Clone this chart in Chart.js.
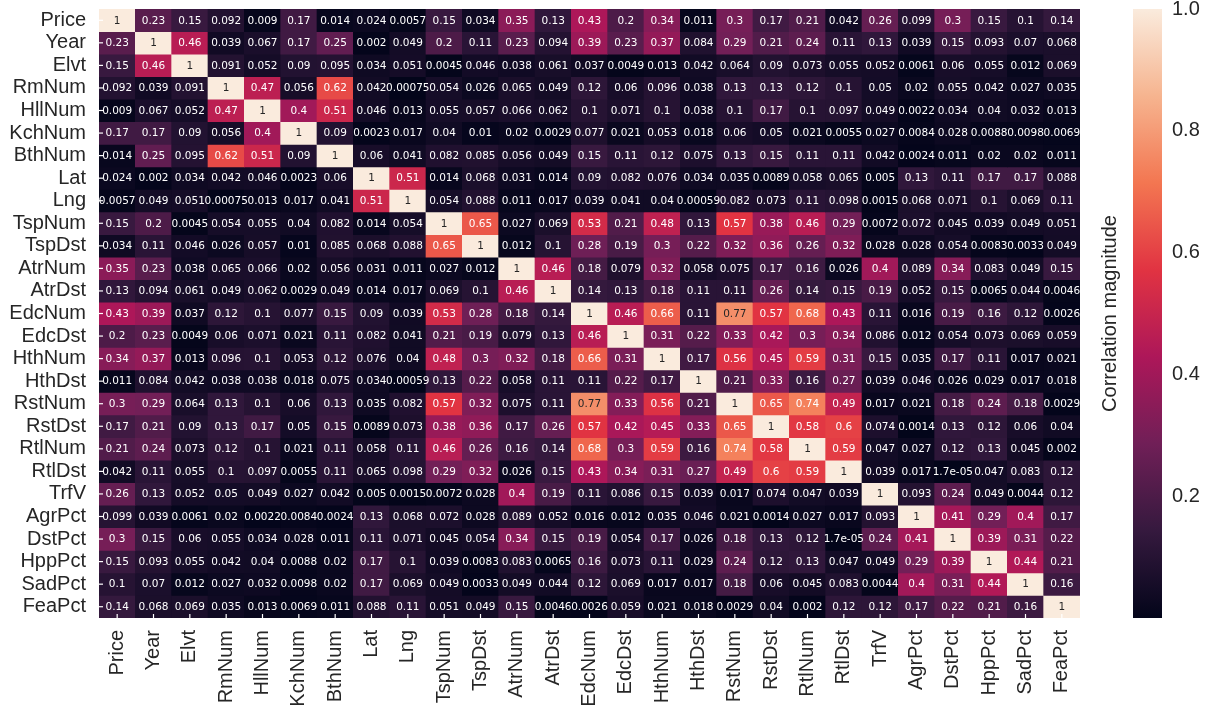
<!DOCTYPE html>
<html>
<head>
<meta charset="utf-8">
<script src="https://cdn.jsdelivr.net/npm/chart.js@4.4.1/dist/chart.umd.min.js"></script>
<style>
  html, body { margin: 0; padding: 0; background: #ffffff; }
  #wrap { width: 1207px; height: 709px; position: relative; }
</style>
</head>
<body>
<div id="wrap"><canvas id="heat" width="1207" height="709"></canvas></div>
<script>
// Feature names (rows and columns share the same order)
const features = ['Price','Year','Elvt','RmNum','HllNum','KchNum','BthNum','Lat','Lng',
  'TspNum','TspDst','AtrNum','AtrDst','EdcNum','EdcDst','HthNum','HthDst','RstNum',
  'RstDst','RtlNum','RtlDst','TrfV','AgrPct','DstPct','HppPct','SadPct','FeaPct'];

// Absolute correlation, one array per row
const rPrice  = [1,0.23,0.15,0.092,0.009,0.17,0.014,0.024,0.0057,0.15,0.034,0.35,0.13,0.43,0.2,0.34,0.011,0.3,0.17,0.21,0.042,0.26,0.099,0.3,0.15,0.1,0.14];
const rYear   = [0.23,1,0.46,0.039,0.067,0.17,0.25,0.002,0.049,0.2,0.11,0.23,0.094,0.39,0.23,0.37,0.084,0.29,0.21,0.24,0.11,0.13,0.039,0.15,0.093,0.07,0.068];
const rElvt   = [0.15,0.46,1,0.091,0.052,0.09,0.095,0.034,0.051,0.0045,0.046,0.038,0.061,0.037,0.0049,0.013,0.042,0.064,0.09,0.073,0.055,0.052,0.0061,0.06,0.055,0.012,0.069];
const rRmNum  = [0.092,0.039,0.091,1,0.47,0.056,0.62,0.042,0.00075,0.054,0.026,0.065,0.049,0.12,0.06,0.096,0.038,0.13,0.13,0.12,0.1,0.05,0.02,0.055,0.042,0.027,0.035];
const rHllNum = [0.009,0.067,0.052,0.47,1,0.4,0.51,0.046,0.013,0.055,0.057,0.066,0.062,0.1,0.071,0.1,0.038,0.1,0.17,0.1,0.097,0.049,0.0022,0.034,0.04,0.032,0.013];
const rKchNum = [0.17,0.17,0.09,0.056,0.4,1,0.09,0.0023,0.017,0.04,0.01,0.02,0.0029,0.077,0.021,0.053,0.018,0.06,0.05,0.021,0.0055,0.027,0.0084,0.028,0.0088,0.0098,0.0069];
const rBthNum = [0.014,0.25,0.095,0.62,0.51,0.09,1,0.06,0.041,0.082,0.085,0.056,0.049,0.15,0.11,0.12,0.075,0.13,0.15,0.11,0.11,0.042,0.0024,0.011,0.02,0.02,0.011];
const rLat    = [0.024,0.002,0.034,0.042,0.046,0.0023,0.06,1,0.51,0.014,0.068,0.031,0.014,0.09,0.082,0.076,0.034,0.035,0.0089,0.058,0.065,0.005,0.13,0.11,0.17,0.17,0.088];
const rLng    = [0.0057,0.049,0.051,0.00075,0.013,0.017,0.041,0.51,1,0.054,0.088,0.011,0.017,0.039,0.041,0.04,0.00059,0.082,0.073,0.11,0.098,0.0015,0.068,0.071,0.1,0.069,0.11];
const rTspNum = [0.15,0.2,0.0045,0.054,0.055,0.04,0.082,0.014,0.054,1,0.65,0.027,0.069,0.53,0.21,0.48,0.13,0.57,0.38,0.46,0.29,0.0072,0.072,0.045,0.039,0.049,0.051];
const rTspDst = [0.034,0.11,0.046,0.026,0.057,0.01,0.085,0.068,0.088,0.65,1,0.012,0.1,0.28,0.19,0.3,0.22,0.32,0.36,0.26,0.32,0.028,0.028,0.054,0.0083,0.0033,0.049];
const rAtrNum = [0.35,0.23,0.038,0.065,0.066,0.02,0.056,0.031,0.011,0.027,0.012,1,0.46,0.18,0.079,0.32,0.058,0.075,0.17,0.16,0.026,0.4,0.089,0.34,0.083,0.049,0.15];
const rAtrDst = [0.13,0.094,0.061,0.049,0.062,0.0029,0.049,0.014,0.017,0.069,0.1,0.46,1,0.14,0.13,0.18,0.11,0.11,0.26,0.14,0.15,0.19,0.052,0.15,0.0065,0.044,0.0046];
const rEdcNum = [0.43,0.39,0.037,0.12,0.1,0.077,0.15,0.09,0.039,0.53,0.28,0.18,0.14,1,0.46,0.66,0.11,0.77,0.57,0.68,0.43,0.11,0.016,0.19,0.16,0.12,0.0026];
const rEdcDst = [0.2,0.23,0.0049,0.06,0.071,0.021,0.11,0.082,0.041,0.21,0.19,0.079,0.13,0.46,1,0.31,0.22,0.33,0.42,0.3,0.34,0.086,0.012,0.054,0.073,0.069,0.059];
const rHthNum = [0.34,0.37,0.013,0.096,0.1,0.053,0.12,0.076,0.04,0.48,0.3,0.32,0.18,0.66,0.31,1,0.17,0.56,0.45,0.59,0.31,0.15,0.035,0.17,0.11,0.017,0.021];
const rHthDst = [0.011,0.084,0.042,0.038,0.038,0.018,0.075,0.034,0.00059,0.13,0.22,0.058,0.11,0.11,0.22,0.17,1,0.21,0.33,0.16,0.27,0.039,0.046,0.026,0.029,0.017,0.018];
const rRstNum = [0.3,0.29,0.064,0.13,0.1,0.06,0.13,0.035,0.082,0.57,0.32,0.075,0.11,0.77,0.33,0.56,0.21,1,0.65,0.74,0.49,0.017,0.021,0.18,0.24,0.18,0.0029];
const rRstDst = [0.17,0.21,0.09,0.13,0.17,0.05,0.15,0.0089,0.073,0.38,0.36,0.17,0.26,0.57,0.42,0.45,0.33,0.65,1,0.58,0.6,0.074,0.0014,0.13,0.12,0.06,0.04];
const rRtlNum = [0.21,0.24,0.073,0.12,0.1,0.021,0.11,0.058,0.11,0.46,0.26,0.16,0.14,0.68,0.3,0.59,0.16,0.74,0.58,1,0.59,0.047,0.027,0.12,0.13,0.045,0.002];
const rRtlDst = [0.042,0.11,0.055,0.1,0.097,0.0055,0.11,0.065,0.098,0.29,0.32,0.026,0.15,0.43,0.34,0.31,0.27,0.49,0.6,0.59,1,0.039,0.017,1.7e-05,0.047,0.083,0.12];
const rTrfV   = [0.26,0.13,0.052,0.05,0.049,0.027,0.042,0.005,0.0015,0.0072,0.028,0.4,0.19,0.11,0.086,0.15,0.039,0.017,0.074,0.047,0.039,1,0.093,0.24,0.049,0.0044,0.12];
const rAgrPct = [0.099,0.039,0.0061,0.02,0.0022,0.0084,0.0024,0.13,0.068,0.072,0.028,0.089,0.052,0.016,0.012,0.035,0.046,0.021,0.0014,0.027,0.017,0.093,1,0.41,0.29,0.4,0.17];
const rDstPct = [0.3,0.15,0.06,0.055,0.034,0.028,0.011,0.11,0.071,0.045,0.054,0.34,0.15,0.19,0.054,0.17,0.026,0.18,0.13,0.12,1.7e-05,0.24,0.41,1,0.39,0.31,0.22];
const rHppPct = [0.15,0.093,0.055,0.042,0.04,0.0088,0.02,0.17,0.1,0.039,0.0083,0.083,0.0065,0.16,0.073,0.11,0.029,0.24,0.12,0.13,0.047,0.049,0.29,0.39,1,0.44,0.21];
const rSadPct = [0.1,0.07,0.012,0.027,0.032,0.0098,0.02,0.17,0.069,0.049,0.0033,0.049,0.044,0.12,0.069,0.017,0.017,0.18,0.06,0.045,0.083,0.0044,0.4,0.31,0.44,1,0.16];
const rFeaPct = [0.14,0.068,0.069,0.035,0.013,0.0069,0.011,0.088,0.11,0.051,0.049,0.15,0.0046,0.0026,0.059,0.021,0.018,0.0029,0.04,0.002,0.12,0.12,0.17,0.22,0.21,0.16,1];

const corrRows = [rPrice,rYear,rElvt,rRmNum,rHllNum,rKchNum,rBthNum,rLat,rLng,rTspNum,
  rTspDst,rAtrNum,rAtrDst,rEdcNum,rEdcDst,rHthNum,rHthDst,rRstNum,rRstDst,rRtlNum,
  rRtlDst,rTrfV,rAgrPct,rDstPct,rHppPct,rSadPct,rFeaPct];

// Colour bar tick labels
const cbarTicks = [0.2, 0.4, 0.6, 0.8, 1.0];
const cbarTitle = 'Correlation magnitude';

// "rocket" colour map anchors: [position, r, g, b]
const rocket = [
  [0.000,   3,   5,  26],
  [0.143,  53,  25,  62],
  [0.286, 112,  31,  87],
  [0.429, 173,  23,  89],
  [0.571, 225,  51,  66],
  [0.714, 243, 118,  81],
  [0.857, 246, 180, 143],
  [1.000, 250, 235, 221]
];

function rocketRGB(t) {
  t = Math.max(0, Math.min(1, t));
  for (let i = 1; i < rocket.length; i++) {
    const a = rocket[i - 1], b = rocket[i];
    if (t <= b[0]) {
      const f = (t - a[0]) / (b[0] - a[0]);
      return [a[1] + f * (b[1] - a[1]), a[2] + f * (b[2] - a[2]), a[3] + f * (b[3] - a[3])];
    }
  }
  const l = rocket[rocket.length - 1];
  return [l[1], l[2], l[3]];
}
const toCss = c => `rgb(${Math.round(c[0])},${Math.round(c[1])},${Math.round(c[2])})`;

function luminance(c) {
  const lin = v => { v /= 255; return v <= 0.03928 ? v / 12.92 : Math.pow((v + 0.055) / 1.055, 2.4); };
  return 0.2126 * lin(c[0]) + 0.7152 * lin(c[1]) + 0.0722 * lin(c[2]);
}

// printf-style "%.2g"
function fmt2g(v) {
  if (v === 0) return '0';
  const e = Math.floor(Math.log10(Math.abs(v)));
  if (e < -4 || e >= 2) {
    let [mant, ex] = v.toExponential(1).split('e');
    mant = mant.replace(/\.?0+$/, '');
    const sign = ex[0] === '-' ? '-' : '+';
    let d = ex.replace(/^[+-]/, '');
    if (d.length < 2) d = '0' + d;
    return mant + 'e' + sign + d;
  }
  return String(parseFloat(v.toPrecision(2)));
}

const LABEL_FONT = '"Liberation Sans", Arial, sans-serif';
const ANNOT_FONT = '"DejaVu Sans", sans-serif';
const INK = '#262626';

// scales keep their own edge padding out of the layout
const noPad = s => { s.paddingTop = 0; s.paddingBottom = 0; s.paddingLeft = 0; s.paddingRight = 0; };

// One floating-bar dataset per row; each bar covers one cell
const datasets = corrRows.map((row, r) => ({
  label: features[r],
  data: row.map(() => [r, r + 1]),
  backgroundColor: row.map(v => toCss(rocketRGB(v))),
  borderWidth: 0,
  grouped: false,
  barPercentage: 1,
  categoryPercentage: 1,
  yAxisID: 'y'
}));

const cellText = {
  id: 'cellText',
  afterDatasetsDraw(chart) {
    const ctx = chart.ctx;
    ctx.save();
    ctx.font = `10.5px ${ANNOT_FONT}`;
    ctx.textAlign = 'center';
    ctx.textBaseline = 'middle';
    corrRows.forEach((row, r) => {
      const meta = chart.getDatasetMeta(r);
      meta.data.forEach((el, c) => {
        const v = row[c];
        const col = rocketRGB(v);
        ctx.fillStyle = luminance(col) > 0.38 ? INK : '#ffffff';
        ctx.fillText(fmt2g(v), el.x, (el.y + el.base) / 2 + 0.5);
      });
    });
    // short white tick marks along the left and bottom edges
    const area = chart.chartArea;
    ctx.strokeStyle = '#ffffff';
    ctx.lineWidth = 1.2;
    const ys = chart.scales.y, xs = chart.scales.x;
    ys.ticks.forEach(t => {
      const y = ys.getPixelForValue(t.value);
      ctx.beginPath(); ctx.moveTo(area.left, y); ctx.lineTo(area.left + 4, y); ctx.stroke();
    });
    xs.ticks.forEach((t, i) => {
      const x = xs.getPixelForTick(i);
      ctx.beginPath(); ctx.moveTo(x, area.bottom - 4); ctx.lineTo(x, area.bottom); ctx.stroke();
    });
    ctx.restore();
  }
};

const colorBar = {
  id: 'colorBar',
  afterDraw(chart) {
    const s = chart.scales.cbar;
    const ctx = chart.ctx;
    const x0 = s.left + 53, w = 29;
    const yTop = s.getPixelForValue(1), yBot = s.getPixelForValue(0);
    const g = ctx.createLinearGradient(0, yBot, 0, yTop);
    rocket.forEach(a => g.addColorStop(a[0], `rgb(${a[1]},${a[2]},${a[3]})`));
    ctx.save();
    ctx.fillStyle = g;
    ctx.fillRect(x0, yTop, w, yBot - yTop);
    ctx.fillStyle = INK;
    ctx.font = `20px ${LABEL_FONT}`;
    ctx.textAlign = 'center';
    ctx.textBaseline = 'middle';
    ctx.translate(s.left + 30, (yTop + yBot) / 2);
    ctx.rotate(-Math.PI / 2);
    ctx.fillText(cbarTitle, 0, 0);
    ctx.restore();
  }
};

new Chart(document.getElementById('heat'), {
  type: 'bar',
  data: { labels: features, datasets },
  plugins: [cellText, colorBar],
  options: {
    responsive: false,
    maintainAspectRatio: false,
    animation: false,
    events: [],
    layout: { autoPadding: false, padding: { top: 9, left: 0, right: 0, bottom: 0 } },
    plugins: { legend: { display: false }, tooltip: { enabled: false } },
    scales: {
      x: {
        type: 'category',
        grid: { display: false, drawTicks: false },
        border: { display: false },
        ticks: {
          color: INK,
          font: { family: LABEL_FONT, size: 20 },
          maxRotation: 90, minRotation: 90,
          padding: 12,
          autoSkip: false
        },
        afterFit: s => { s.height = 91; noPad(s); }
      },
      y: {
        type: 'linear',
        min: 0, max: features.length,
        reverse: true,
        grid: { display: false, drawTicks: false },
        border: { display: false },
        afterBuildTicks: s => { s.ticks = features.map((_, i) => ({ value: i + 0.5 })); },
        ticks: {
          color: INK,
          font: { family: LABEL_FONT, size: 20 },
          padding: 13,
          autoSkip: false,
          callback: (v, i) => features[i]
        },
        afterFit: s => { s.width = 99; noPad(s); }
      },
      cbar: {
        type: 'linear',
        position: 'right',
        min: 0, max: 1,
        grid: { display: false, drawTicks: false },
        border: { display: false },
        afterBuildTicks: s => { s.ticks = cbarTicks.map(v => ({ value: v })); },
        ticks: {
          color: INK,
          font: { family: LABEL_FONT, size: 20 },
          padding: 92,
          callback: v => v.toFixed(1)
        },
        afterFit: s => { s.width = 127; noPad(s); }
      }
    }
  }
});
</script>
</body>
</html>
